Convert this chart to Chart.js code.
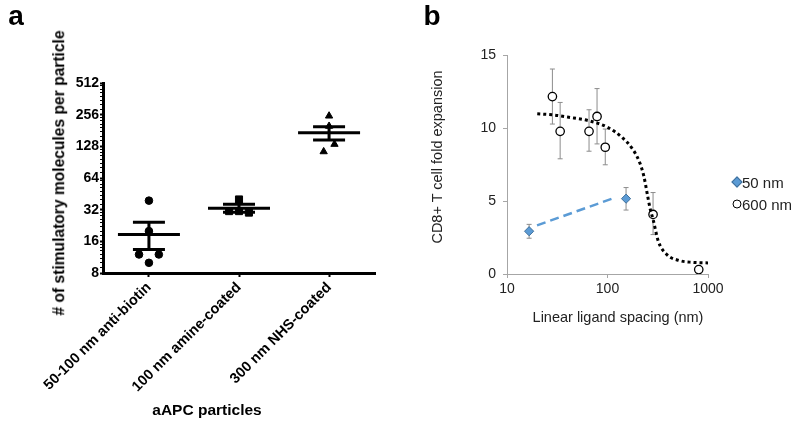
<!DOCTYPE html>
<html lang="en">
<head>
<meta charset="UTF-8">
<title>aAPC stimulatory molecules and ligand spacing</title>
<script src="https://cdn.jsdelivr.net/npm/chart.js"></script>
<style>
    body { margin: 0; background: #fff; font-family: "Liberation Sans", Arial, sans-serif; }
    #wrap { position: relative; width: 800px; height: 425px; overflow: hidden; }
    canvas { position: absolute; top: 0; }
    #chartA { left: 0; }
    #chartB { left: 420px; }
    .txt { position: absolute; white-space: nowrap; line-height: 1; transform: translate(-50%, -50%); }
    .rot { transform: translate(-50%, -50%) rotate(-90deg); }
    .letter { font-weight: bold; font-size: 28px; color: #000; }
    .boldA { font-weight: bold; color: #000; }
    .plainB { font-size: 14.5px; color: #222; }
    .key { position: absolute; font-size: 15px; color: #222; line-height: 1; transform: translateY(-50%); }
    .diamond { position: absolute; width: 6px; height: 6px; background: #5b9bd5; border: 1px solid #41719c;
               transform: translate(-50%, -50%) rotate(45deg); }
    .ring { position: absolute; width: 7px; height: 7px; border: 1.3px solid #000; border-radius: 50%;
            background: #fff; transform: translate(-50%, -50%); }
</style>
</head>
<body>
<div id="wrap">
    <canvas id="chartA" width="400" height="425"></canvas>
    <canvas id="chartB" width="380" height="425"></canvas>

    <div class="txt letter" style="left:16px; top:16px;">a</div>
    <div class="txt letter" style="left:432px; top:16px;">b</div>
    <div class="txt boldA rot" style="left:59px; top:173px; font-size:15.6px;"># of stimulatory molecules per particle</div>
    <div class="txt boldA" style="left:207px; top:410px; font-size:15.5px;">aAPC particles</div>
    <div class="txt plainB rot" style="left:437px; top:157px;">CD8+ T cell fold expansion</div>
    <div class="txt plainB" style="left:618px; top:317px;">Linear ligand spacing (nm)</div>

    <div class="diamond" style="left:737px; top:182px;"></div>
    <div class="key" style="left:742px; top:182px;">50 nm</div>
    <div class="ring" style="left:737px; top:204px;"></div>
    <div class="key" style="left:742px; top:204px;">600 nm</div>
</div>

<script>
    // ---- panel a: stimulatory molecules per particle (log2 axis) ----
    const particles = ['50-100 nm anti-biotin', '100 nm amine-coated', '300 nm NHS-coated'];
    const antiBiotin = [39, 20, 12, 12, 10];
    const amineCoated = [40, 31, 30, 31];
    const nhsCoated = [249, 199, 134, 114];
    const groupMean = [18.6, 33, 172];
    const semHigh = [24.3, 36, 196];
    const semLow = [13.4, 30.3, 147];
    const log2Ticks = [8, 16, 32, 64, 128, 256, 512];

    // sideways spread of the dots inside each column (category units)
    const spread = [[0, 0, -0.11, 0.11, 0], [0, -0.11, 0.11, 0], [0, 0, 0.06, -0.06]];

    // ---- panel b: fold expansion vs ligand spacing ----
    const spacing50 = [16.6, 153];
    const expansion50 = [2.93, 5.16];
    const err50High = [3.4, 5.92];
    const err50Low = [2.45, 4.38];
    const spacing600 = [28.3, 33.8, 65.5, 78.7, 95, 284, 809];
    const expansion600 = [12.15, 9.77, 9.77, 10.79, 8.68, 4.08, 0.3];
    const err600High = [14.04, 11.75, 11.25, 12.7, 9.93, 5.58, 0.42];
    const err600Low = [10.27, 7.89, 8.41, 8.91, 7.48, 2.7, 0.18];
    const trendX = [19.9, 118.6];
    const trendY = [3.33, 5.23];
    const fitX = [20, 30, 40, 65, 100, 140, 180, 210, 230, 250, 265, 285, 320, 390, 520, 700, 1000];
    const fitY = [10.98, 10.88, 10.75, 10.5, 10.05, 9.35, 8.5, 7.6, 6.7, 5.4, 4.5, 3.7, 2.25, 1.33, 0.92, 0.8, 0.76];
    const spacingTicks = [10, 100, 1000];
    const expansionTicks = [0, 5, 10, 15];

    const pts = (ys, col) => ys.map((v, i) => ({x: col + 1 + spread[col][i], y: v}));
    const pairs = (xs, ys) => xs.map((v, i) => ({x: v, y: ys[i]}));

    // minor ticks on the log2 axis: eighths of every octave
    const log2Minor = [];
    log2Ticks.forEach((t, i) => {
        if (i === log2Ticks.length - 1) { log2Minor.push(t); return; }
        for (let j = 0; j < 8; j++) log2Minor.push(t * (1 + j / 8));
    });

    const meanSem = {
        id: 'meanSem',
        beforeDatasetsDraw(chart) {
            const {ctx, scales: {x, y}} = chart;
            ctx.save();
            ctx.strokeStyle = '#000';
            ctx.lineWidth = 3;
            groupMean.forEach((m, i) => {
                const cx = x.getPixelForValue(i + 1);
                const ym = y.getPixelForValue(m);
                const yh = y.getPixelForValue(semHigh[i]);
                const yl = y.getPixelForValue(semLow[i]);
                ctx.beginPath();
                ctx.moveTo(cx - 31, ym); ctx.lineTo(cx + 31, ym);
                ctx.moveTo(cx - 16, yh); ctx.lineTo(cx + 16, yh);
                ctx.moveTo(cx - 16, yl); ctx.lineTo(cx + 16, yl);
                ctx.moveTo(cx, yh); ctx.lineTo(cx, yl);
                ctx.stroke();
            });
            ctx.restore();
        }
    };

    new Chart(document.getElementById('chartA'), {
        type: 'scatter',
        data: {
            datasets: [
                { data: pts(antiBiotin, 0), pointStyle: 'circle', pointRadius: 3.8, backgroundColor: '#000', borderColor: '#000' },
                { data: pts(amineCoated, 1), pointStyle: 'rect', pointRadius: 5, backgroundColor: '#000', borderColor: '#000' },
                { data: pts(nhsCoated, 2), pointStyle: 'triangle', pointRadius: 4.2, backgroundColor: '#000', borderColor: '#000' }
            ]
        },
        options: {
            responsive: false,
            animation: false,
            layout: { padding: { left: 0, top: 83, right: 25, bottom: 0 } },
            plugins: { legend: { display: false }, tooltip: { enabled: false } },
            scales: {
                x: {
                    type: 'linear', min: 0.49, max: 3.51,
                    afterBuildTicks: s => { s.ticks = particles.map((p, i) => ({value: i + 1})); },
                    afterFit: s => { s.height = 152; },
                    border: { color: '#000', width: 3 },
                    grid: { drawOnChartArea: false, tickLength: 4, tickColor: '#000', tickWidth: 2 },
                    ticks: {
                        autoSkip: false, minRotation: 45, maxRotation: 45, padding: 2,
                        color: '#000', font: { family: 'Liberation Sans', weight: 'bold', size: 14.5 },
                        callback: v => particles[v - 1]
                    }
                },
                y: {
                    type: 'logarithmic', min: 8, max: 512,
                    afterBuildTicks: s => { s.ticks = log2Minor.map(v => ({value: v})); },
                    afterFit: s => { s.width = 103; },
                    border: { color: '#000', width: 3 },
                    grid: { drawOnChartArea: false, tickLength: 3, tickColor: '#000',
                            tickWidth: c => log2Ticks.includes(c.tick && c.tick.value) ? 2 : 1.2 },
                    ticks: {
                        autoSkip: false, padding: 1,
                        color: '#000', font: { family: 'Liberation Sans', weight: 'bold', size: 14 },
                        callback: v => log2Ticks.includes(v) ? String(v) : ''
                    }
                }
            }
        },
        plugins: [meanSem]
    });

    const errorBars = {
        id: 'errorBars',
        beforeDatasetsDraw(chart) {
            const {ctx, scales: {x, y}} = chart;
            ctx.save();
            ctx.strokeStyle = '#8c8c8c';
            ctx.lineWidth = 1;
            chart.data.datasets.forEach(ds => {
                if (!ds.errHigh) return;
                ds.data.forEach((p, i) => {
                    const px = x.getPixelForValue(p.x);
                    const yh = y.getPixelForValue(ds.errHigh[i]);
                    const yl = y.getPixelForValue(ds.errLow[i]);
                    ctx.beginPath();
                    ctx.moveTo(px, yh); ctx.lineTo(px, yl);
                    ctx.moveTo(px - 2.5, yh); ctx.lineTo(px + 2.5, yh);
                    ctx.moveTo(px - 2.5, yl); ctx.lineTo(px + 2.5, yl);
                    ctx.stroke();
                });
            });
            ctx.restore();
        }
    };

    new Chart(document.getElementById('chartB'), {
        type: 'scatter',
        data: {
            datasets: [
                { label: 'fit', data: pairs(fitX, fitY), showLine: true, pointRadius: 0,
                  borderColor: '#000', borderWidth: 3, borderDash: [3, 3], cubicInterpolationMode: 'monotone' },
                { label: 'trend', data: pairs(trendX, trendY), showLine: true, pointRadius: 0,
                  borderColor: '#5b9bd5', borderWidth: 2.5, borderDash: [9, 5] },
                { label: '50 nm', data: pairs(spacing50, expansion50), errHigh: err50High, errLow: err50Low,
                  pointStyle: 'rectRot', pointRadius: 4.6, backgroundColor: '#5b9bd5', borderColor: '#41719c', borderWidth: 1 },
                { label: '600 nm', data: pairs(spacing600, expansion600), errHigh: err600High, errLow: err600Low,
                  pointStyle: 'circle', pointRadius: 4.2, backgroundColor: '#fff', borderColor: '#000', borderWidth: 1.3 }
            ]
        },
        options: {
            responsive: false,
            animation: false,
            layout: { padding: { left: 0, top: 55, right: 92, bottom: 0 } },
            plugins: { legend: { display: false }, tooltip: { enabled: false } },
            scales: {
                x: {
                    type: 'logarithmic', min: 10, max: 1000,
                    afterBuildTicks: s => { s.ticks = spacingTicks.map(v => ({value: v})); },
                    afterFit: s => { s.height = 151; },
                    border: { color: '#a6a6a6', width: 1 },
                    grid: { drawOnChartArea: false, tickLength: 4, tickColor: '#a6a6a6' },
                    ticks: { autoSkip: false, maxRotation: 0, padding: 3, color: '#222',
                             font: { family: 'Liberation Sans', size: 14 }, callback: v => String(v) }
                },
                y: {
                    type: 'linear', min: 0, max: 15,
                    afterBuildTicks: s => { s.ticks = expansionTicks.map(v => ({value: v})); },
                    afterFit: s => { s.width = 87; },
                    border: { color: '#a6a6a6', width: 1 },
                    grid: { drawOnChartArea: false, tickLength: 4, tickColor: '#a6a6a6' },
                    ticks: { autoSkip: false, padding: 7, color: '#222',
                             font: { family: 'Liberation Sans', size: 14 }, callback: v => String(v) }
                }
            }
        },
        plugins: [errorBars]
    });
</script>
</body>
</html>
